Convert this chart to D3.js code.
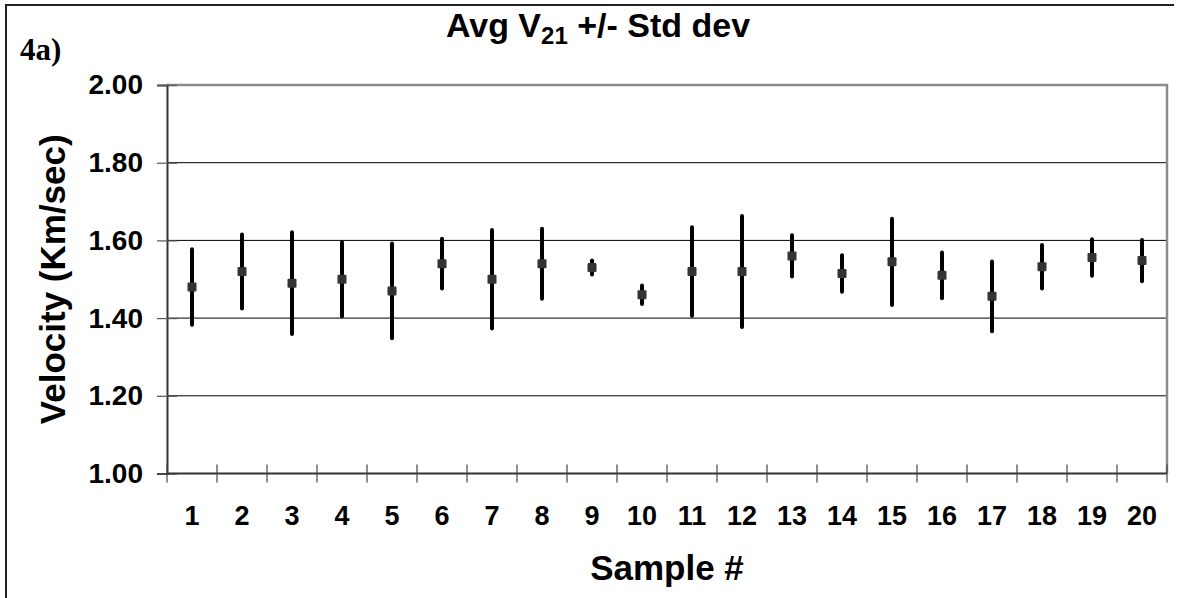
<!DOCTYPE html>
<html>
<head>
<meta charset="utf-8">
<script src="https://cdn.jsdelivr.net/npm/d3@7"></script>
<style>
  html, body { margin: 0; padding: 0; overflow: hidden; background: #fff; }
  svg { display: block; }
  text { font-family: "Liberation Sans", Arial, sans-serif; font-weight: bold; fill: #000; }
</style>
</head>
<body>
<script>
// chart data
var samples = ["1","2","3","4","5","6","7","8","9","10","11","12","13","14","15","16","17","18","19","20"];
var avgVelocity = [1.48, 1.52, 1.49, 1.50, 1.47, 1.54, 1.50, 1.54, 1.53, 1.46,
                   1.52, 1.52, 1.56, 1.515, 1.545, 1.51, 1.456, 1.532, 1.556, 1.548];
var stdDev = [0.097, 0.095, 0.131, 0.095, 0.122, 0.064, 0.127, 0.090, 0.018, 0.024,
              0.114, 0.143, 0.053, 0.047, 0.111, 0.059, 0.090, 0.056, 0.047, 0.053];
var yTicks = [1.0, 1.2, 1.4, 1.6, 1.8, 2.0];

var W = 1178, H = 598;
var margin = {top: 85, right: 11, bottom: 124.5, left: 167},
    width = W - margin.left - margin.right,
    height = H - margin.top - margin.bottom;

var svg = d3.select("body").append("svg")
    .attr("width", W)
    .attr("height", H);

// outer frame (top and left edges visible)
svg.append("path")
    .attr("d", "M6," + (H + 5) + "V5H1174")
    .attr("fill", "none")
    .attr("stroke", "#222")
    .attr("stroke-width", 2);

var g = svg.append("g")
    .attr("transform", "translate(" + margin.left + "," + margin.top + ")");

var x = d3.scaleBand().domain(samples).range([0, width]).padding(0);
var y = d3.scaleLinear().domain([1, 2]).range([height, 0]);

// gridlines
g.selectAll(".grid")
    .data(yTicks.filter(function(d) { return d > 1 && d < 2; }))
    .enter().append("line")
    .attr("x1", 0).attr("x2", width)
    .attr("y1", function(d) { return y(d); })
    .attr("y2", function(d) { return y(d); })
    .attr("stroke", "#000")
    .attr("stroke-width", 1);

// plot area border (grey)
g.append("path")
    .attr("d", "M0," + y(2) + "H" + width + "V" + height)
    .attr("fill", "none")
    .attr("stroke", "#8c8c8c")
    .attr("stroke-width", 2.5);

// Y axis
var yAxis = g.append("g")
    .call(d3.axisLeft(y).tickValues(yTicks).tickFormat(d3.format(".2f")).tickSize(10).tickPadding(14));
yAxis.select(".domain").attr("stroke", "#333").attr("stroke-width", 2);
yAxis.selectAll(".tick line").attr("stroke", "#555").attr("stroke-width", 1.2)
    .attr("x2", -10).attr("x1", 10);
yAxis.selectAll(".tick text")
    .style("font-size", "28px")
    .style("font-family", "'Liberation Sans', Arial, sans-serif")
    .style("font-weight", "bold")
    .attr("fill", "#000");

// X axis line and crossing ticks at category boundaries
g.append("line")
    .attr("x1", 0).attr("x2", width)
    .attr("y1", height).attr("y2", height)
    .attr("stroke", "#333").attr("stroke-width", 2);

var bounds = samples.map(function(s) { return x(s); }).concat([width]);
g.selectAll(".xtick")
    .data(bounds)
    .enter().append("line")
    .attr("x1", function(d) { return d; })
    .attr("x2", function(d) { return d; })
    .attr("y1", height - 9).attr("y2", height + 9)
    .attr("stroke", "#444").attr("stroke-width", 1.2);

g.selectAll(".xlabel")
    .data(samples)
    .enter().append("text")
    .attr("x", function(d) { return x(d) + x.bandwidth() / 2; })
    .attr("y", height + 51)
    .attr("text-anchor", "middle")
    .style("font-size", "27px")
    .text(function(d) { return d; });

// error bars
var pts = samples.map(function(s, i) {
    return {s: s, m: avgVelocity[i], sd: stdDev[i]};
});

g.selectAll(".err")
    .data(pts)
    .enter().append("line")
    .attr("x1", function(d) { return x(d.s) + x.bandwidth() / 2; })
    .attr("x2", function(d) { return x(d.s) + x.bandwidth() / 2; })
    .attr("y1", function(d) { return y(d.m + d.sd); })
    .attr("y2", function(d) { return y(d.m - d.sd); })
    .attr("stroke", "#000")
    .attr("stroke-width", 4)
    .attr("stroke-linecap", "round");

// mean markers
g.selectAll(".mark")
    .data(pts)
    .enter().append("rect")
    .attr("x", function(d) { return x(d.s) + x.bandwidth() / 2 - 4.5; })
    .attr("y", function(d) { return y(d.m) - 4.5; })
    .attr("width", 9).attr("height", 9)
    .attr("rx", 1)
    .attr("fill", "#333");

// Title
var title = svg.append("text")
    .attr("x", 598)
    .attr("y", 37)
    .attr("text-anchor", "middle")
    .style("font-size", "34px");
title.append("tspan").text("Avg V");
title.append("tspan").attr("dy", 7).style("font-size", "24px").text("21");
title.append("tspan").attr("dy", -7).text(" +/- Std dev");

// panel label
svg.append("text")
    .attr("x", 20)
    .attr("y", 60)
    .style("font-family", "'Liberation Serif', 'Times New Roman', serif")
    .style("font-size", "31px")
    .text("4a)");

// x-axis title
svg.append("text")
    .attr("x", margin.left + width / 2)
    .attr("y", 580)
    .attr("text-anchor", "middle")
    .style("font-size", "35px")
    .text("Sample #");

// y-axis title
svg.append("text")
    .attr("transform", "translate(65," + (margin.top + height / 2) + ") rotate(-90)")
    .attr("text-anchor", "middle")
    .style("font-size", "35px")
    .text("Velocity (Km/sec)");
</script>
</body>
</html>
